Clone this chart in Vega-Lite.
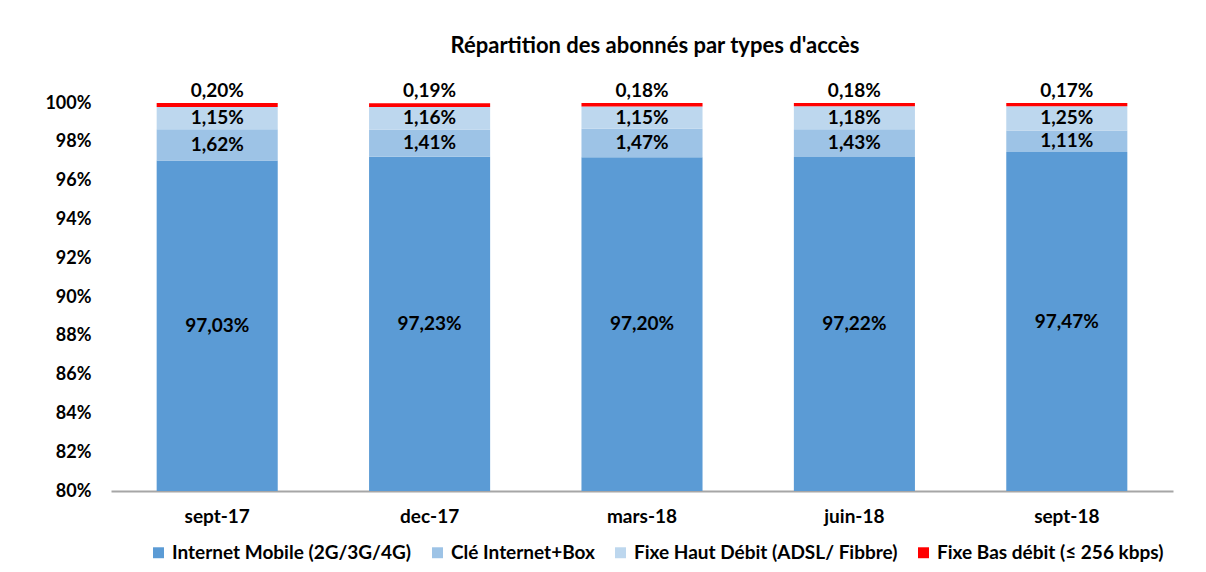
{
  "$schema": "https://vega.github.io/schema/vega-lite/v6.json",
  "autosize": "none",
  "width": 1062,
  "height": 388,
  "padding": {"left": 111, "top": 103, "right": 33, "bottom": 81},
  "background": "white",
  "title": {
    "text": "Répartition des abonnés par types d'accès",
    "font": "Lato",
    "fontSize": 22,
    "fontWeight": "bold",
    "color": "#000000",
    "anchor": "middle",
    "dx": 13,
    "offset": 24
  },
  "config": {
    "view": {"stroke": null},
    "locale": {"number": {"decimal": ",", "thousands": " ", "grouping": [3], "currency": ["", " €"]}},
    "font": "Lato",
    "axisY": {
      "labelOverlap": false,
      "title": null,
      "grid": false,
      "ticks": false,
      "domain": false,
      "labelFont": "Lato",
      "labelFontSize": 18,
      "labelFontWeight": "bold",
      "labelColor": "#000000",
      "labelPadding": 20
    }
  },
  "data": {
    "values": [
      {"date": "sept-17", "type": "Internet Mobile (2G/3G/4G)", "ord": 1, "v": 0.9703},
      {"date": "sept-17", "type": "Clé Internet+Box", "ord": 2, "v": 0.0162},
      {"date": "sept-17", "type": "Fixe Haut Débit (ADSL/ Fibbre)", "ord": 3, "v": 0.0115},
      {"date": "sept-17", "type": "Fixe Bas débit (≤ 256 kbps)", "ord": 4, "v": 0.0020},
      {"date": "dec-17", "type": "Internet Mobile (2G/3G/4G)", "ord": 1, "v": 0.9723},
      {"date": "dec-17", "type": "Clé Internet+Box", "ord": 2, "v": 0.0141},
      {"date": "dec-17", "type": "Fixe Haut Débit (ADSL/ Fibbre)", "ord": 3, "v": 0.0116},
      {"date": "dec-17", "type": "Fixe Bas débit (≤ 256 kbps)", "ord": 4, "v": 0.0019},
      {"date": "mars-18", "type": "Internet Mobile (2G/3G/4G)", "ord": 1, "v": 0.9720},
      {"date": "mars-18", "type": "Clé Internet+Box", "ord": 2, "v": 0.0147},
      {"date": "mars-18", "type": "Fixe Haut Débit (ADSL/ Fibbre)", "ord": 3, "v": 0.0115},
      {"date": "mars-18", "type": "Fixe Bas débit (≤ 256 kbps)", "ord": 4, "v": 0.0018},
      {"date": "juin-18", "type": "Internet Mobile (2G/3G/4G)", "ord": 1, "v": 0.9722},
      {"date": "juin-18", "type": "Clé Internet+Box", "ord": 2, "v": 0.0143},
      {"date": "juin-18", "type": "Fixe Haut Débit (ADSL/ Fibbre)", "ord": 3, "v": 0.0118},
      {"date": "juin-18", "type": "Fixe Bas débit (≤ 256 kbps)", "ord": 4, "v": 0.0018},
      {"date": "sept-18", "type": "Internet Mobile (2G/3G/4G)", "ord": 1, "v": 0.9747},
      {"date": "sept-18", "type": "Clé Internet+Box", "ord": 2, "v": 0.0111},
      {"date": "sept-18", "type": "Fixe Haut Débit (ADSL/ Fibbre)", "ord": 3, "v": 0.0125},
      {"date": "sept-18", "type": "Fixe Bas débit (≤ 256 kbps)", "ord": 4, "v": 0.0017}
    ]
  },
  "transform": [
    {"stack": "v", "groupby": ["date"], "sort": [{"field": "ord"}], "as": ["v0", "v1"]},
    {"calculate": "(max(datum.v0, 0.8) + datum.v1) / 2", "as": "mid"}
  ],
  "encoding": {
    "x": {
      "field": "date",
      "type": "nominal",
      "sort": ["sept-17", "dec-17", "mars-18", "juin-18", "sept-18"],
      "scale": {"paddingInner": 0.43, "paddingOuter": 0.215},
      "axis": {
        "title": null,
        "labelAngle": 0,
        "labelFont": "Lato",
        "labelFontSize": 19,
        "labelFontWeight": "bold",
        "labelColor": "#000000",
        "labelPadding": 16,
        "ticks": false,
        "domainColor": "#A6A6A6",
        "domainWidth": 2
      }
    }
  },
  "layer": [
    {
      "mark": {"type": "bar"},
      "encoding": {
        "y": {
          "field": "v0",
          "type": "quantitative",
          "scale": {"domain": [0.8, 1.0], "clamp": true, "nice": false, "zero": false},
          "axis": {
            "values": [0.8, 0.82, 0.84, 0.86, 0.88, 0.9, 0.92, 0.94, 0.96, 0.98, 1.0],
            "format": ".0%",
            "labelOverlap": false
          }
        },
        "y2": {"field": "v1"},
        "color": {
          "field": "type",
          "type": "nominal",
          "sort": null,
          "scale": {
            "domain": ["Internet Mobile (2G/3G/4G)", "Clé Internet+Box", "Fixe Haut Débit (ADSL/ Fibbre)", "Fixe Bas débit (≤ 256 kbps)"],
            "range": ["#5B9BD5", "#9DC3E6", "#BDD7EE", "#FF0000"]
          },
          "legend": {
            "title": null,
            "orient": "none",
            "direction": "horizontal",
            "legendX": 38,
            "legendY": 440,
            "symbolType": "square",
            "symbolSize": 120,
            "symbolStrokeWidth": 0,
            "labelFont": "Lato",
            "labelFontSize": 19,
            "labelFontWeight": "bold",
            "labelColor": "#000000",
            "labelLimit": 400,
            "columnPadding": 16,
            "labelOffset": 4
          }
        }
      }
    },
    {
      "transform": [{"filter": "datum.ord < 4"}],
      "mark": {"type": "text", "font": "Lato", "fontSize": 19, "fontWeight": "bold", "color": "#000000", "baseline": "middle"},
      "encoding": {
        "y": {"field": "mid", "type": "quantitative", "axis": {"values": [0.8, 0.82, 0.84, 0.86, 0.88, 0.9, 0.92, 0.94, 0.96, 0.98, 1.0], "format": ".0%", "labelOverlap": false}},
        "text": {"field": "v", "type": "quantitative", "format": ".2%"}
      }
    },
    {
      "transform": [{"filter": "datum.ord == 4"}],
      "mark": {"type": "text", "font": "Lato", "fontSize": 19, "fontWeight": "bold", "color": "#000000", "baseline": "middle", "dy": -12},
      "encoding": {
        "y": {"field": "v1", "type": "quantitative", "axis": {"values": [0.8, 0.82, 0.84, 0.86, 0.88, 0.9, 0.92, 0.94, 0.96, 0.98, 1.0], "format": ".0%", "labelOverlap": false}},
        "text": {"field": "v", "type": "quantitative", "format": ".2%"}
      }
    }
  ]
}
